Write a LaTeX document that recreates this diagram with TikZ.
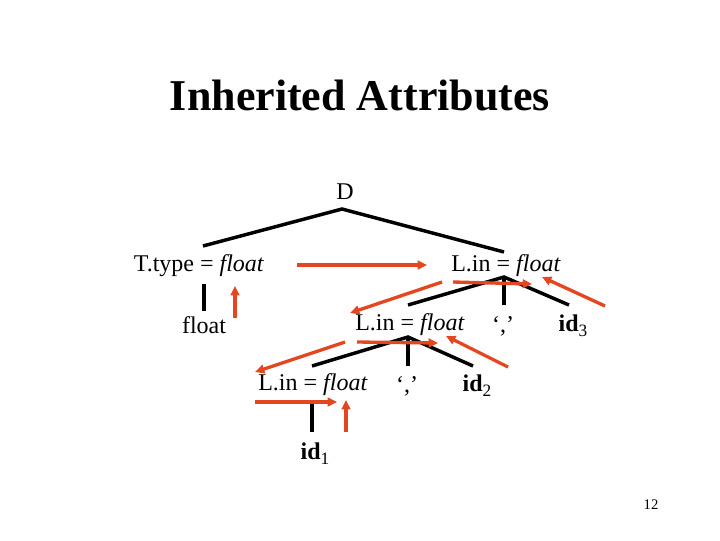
\documentclass[tikz,border=0pt]{standalone}
\usepackage{fontspec}
\setmainfont{Liberation Serif}
\usetikzlibrary{arrows.meta}
\definecolor{arr}{RGB}{228,70,32}
\newcommand{\idsub}[1]{\textbf{id}\raisebox{-0.45ex}{\fontsize{13}{13}\selectfont #1}}
\begin{document}
\begin{tikzpicture}[x=0.75pt,y=-0.75pt,
  lbl/.style={inner sep=0pt,font=\fontsize{18}{20}\selectfont},
  edge/.style={line width=2.6pt,black},
  flow/.style={line width=2.5pt,arr,-{Triangle[length=7pt,width=6.5pt]}}]
\useasboundingbox (0,0) rectangle (720,540);
\node[font=\bfseries\fontsize{33}{38}\selectfont] (title) at (360,95) {Inherited Attributes};
\node[lbl] (D) at (345,192) {D};
\node[lbl] (T) at (199,266) {T.type = \textit{float}};
\node[lbl] (L1) at (506,266) {L.in = \textit{float}};
\node[lbl] (fl) at (204,325) {float};
\node[lbl] (L2) at (410,325) {L.in = \textit{float}};
\node[lbl] (c1) at (503,326) {‘,’};
\node[lbl] (id3) at (573,326) {\idsub{3}};
\node[lbl] (L3) at (313,385) {L.in = \textit{float}};
\node[lbl] (c2) at (407,386) {‘,’};
\node[lbl] (id2) at (477,386) {\idsub{2}};
\node[lbl] (id1) at (315,454) {\idsub{1}};
\node[inner sep=0pt,font=\fontsize{11}{12}\selectfont] (pg) at (651,505) {12};
% tree edges
\coordinate (Da) at (342,209);
\coordinate (Tt) at (203,246);
\coordinate (L1t) at (504,252);
\coordinate (L1a) at (504,277);
\coordinate (L2t) at (408,305);
\coordinate (c1t) at (504,305);
\coordinate (id3t) at (569,305);
\coordinate (L2a) at (408,337);
\coordinate (L3t) at (312,366);
\coordinate (c2t) at (408,366);
\coordinate (id2t) at (473,366);
\draw[edge] (Tt) -- (Da) -- (L1t);
\draw[edge] (204,284) -- (204,311);
\draw[edge] (L2t) -- (L1a) -- (id3t);
\draw[edge] (L1a) -- (c1t);
\draw[edge] (L3t) -- (L2a) -- (id2t);
\draw[edge] (L2a) -- (c2t);
\draw[edge] (312,403) -- (312,432);
% attribute flow
\draw[flow] (235,318) -- (235,286);
\draw[flow] (297,265) -- (427,265);
\draw[flow] (453,282) -- (532,284);
\draw[flow] (605,306) -- (542,277);
\draw[flow] (442,282) -- (350,313);
\draw[flow] (357,342) -- (438,343);
\draw[flow] (508,367) -- (446,336);
\draw[flow] (345,342) -- (255,372);
\draw[flow] (255,402) -- (337,402);
\draw[flow] (346,432) -- (346,400);
\end{tikzpicture}
\end{document}
